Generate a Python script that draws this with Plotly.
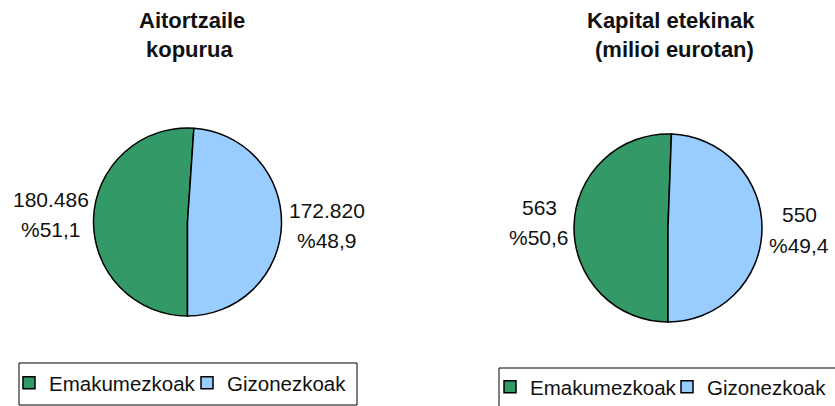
import plotly.graph_objects as go

W, H = 835, 406

categories = ["Emakumezkoak", "Gizonezkoak"]
colors = ["#339966", "#99CCFF"]

taxpayers = [180486, 172820]
capital = [563, 550]

title_left = ["Aitortzaile", "kopurua"]
title_right = ["Kapital etekinak", "(milioi eurotan)"]

FONT = "Liberation Sans, Arial, sans-serif"
TXT = "#111111"


def px_x(x):
    return x / W


def px_y(y):
    return 1 - y / H


def fmt_num(v):
    return f"{v:,}".replace(",", ".")


def fmt_pct(v, tot):
    return "%" + f"{100 * v / tot:.1f}".replace(".", ",")


fig = go.Figure()

# left pie: centre (187.5, 222), r 94
fig.add_trace(go.Pie(
    labels=categories, values=taxpayers, sort=False, direction="clockwise",
    rotation=180, textinfo="none", hoverinfo="label+value+percent",
    marker=dict(colors=colors, line=dict(color="#000000", width=1.5)),
    domain=dict(x=[px_x(93.5), px_x(281.5)], y=[px_y(316), px_y(128)]),
    legend="legend", legendgroup="left", showlegend=True,
))
# right pie: centre (668, 228), r 94
fig.add_trace(go.Pie(
    labels=categories, values=capital, sort=False, direction="clockwise",
    rotation=180, textinfo="none", hoverinfo="label+value+percent",
    marker=dict(colors=colors, line=dict(color="#000000", width=1.5)),
    domain=dict(x=[px_x(574), px_x(762)], y=[px_y(322), px_y(134)]),
    legend="legend2", legendgroup="right", showlegend=True,
))

ann = []


def add_text(text, x, y, size=21, bold=False):
    ann.append(dict(
        text=f"<b>{text}</b>" if bold else text, x=px_x(x), y=px_y(y),
        xref="paper", yref="paper", xanchor="center", yanchor="middle",
        showarrow=False, font=dict(family=FONT, size=size, color=TXT),
    ))


# titles
add_text(title_left[0], 191.5, 20, 22, True)
add_text(title_left[1], 190, 49, 22, True)
add_text(title_right[0], 671, 20, 22, True)
add_text(title_right[1], 674.5, 49, 22, True)

# data labels
tot_l = sum(taxpayers)
tot_r = sum(capital)
label_pos_left = [((51, 199.5), (51, 229)), ((327, 210.5), (327, 240.5))]
label_pos_right = [((539, 207), (538.5, 237)), ((799.5, 214.5), (799, 245))]
for v, (p1, p2) in zip(taxpayers, label_pos_left):
    add_text(fmt_num(v), *p1)
    add_text(fmt_pct(v, tot_l), *p2)
for v, (p1, p2) in zip(capital, label_pos_right):
    add_text(fmt_num(v), *p1)
    add_text(fmt_pct(v, tot_r), *p2)

shapes = [
    dict(type="rect", xref="paper", yref="paper",
         x0=px_x(19), x1=px_x(357), y0=px_y(405), y1=px_y(363),
         line=dict(color="#000000", width=1), fillcolor="rgba(0,0,0,0)"),
    dict(type="rect", xref="paper", yref="paper",
         x0=px_x(499), x1=px_x(845), y0=px_y(415), y1=px_y(368),
         line=dict(color="#000000", width=1), fillcolor="rgba(0,0,0,0)"),
]

leg_common = dict(orientation="h", font=dict(family=FONT, size=20.5, color=TXT),
                  bgcolor="rgba(0,0,0,0)", borderwidth=0, xanchor="left",
                  yanchor="middle", traceorder="normal",
                  entrywidthmode="pixels")

fig.update_layout(
    width=W, height=H, autosize=False,
    margin=dict(l=0, r=0, t=0, b=0, autoexpand=False),
    paper_bgcolor="#ffffff", plot_bgcolor="#ffffff",
    annotations=ann, shapes=shapes,
    legend=dict(x=px_x(9), y=px_y(383), entrywidth=133, **leg_common),
    legend2=dict(x=px_x(490), y=px_y(387), entrywidth=132, **leg_common),
)

fig.write_html(
    "out.html",
    config={"displayModeBar": False, "responsive": False},
    post_script="document.body.style.margin='0';document.body.style.overflow='hidden';",
)
